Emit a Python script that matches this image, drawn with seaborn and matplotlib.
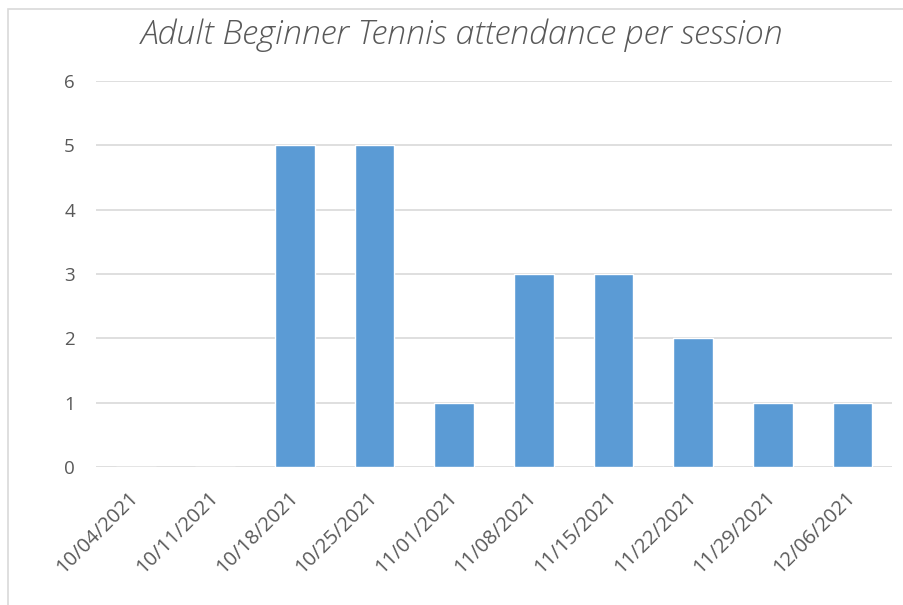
import pandas as pd
import seaborn as sns
import matplotlib.pyplot as plt
from matplotlib.patches import Rectangle

sessions = ['10/04/2021', '10/11/2021', '10/18/2021', '10/25/2021', '11/01/2021',
            '11/08/2021', '11/15/2021', '11/22/2021', '11/29/2021', '12/06/2021']
attendance = [0, 0, 5, 5, 1, 3, 3, 2, 1, 1]

df = pd.DataFrame({'session': sessions, 'attendance': attendance})

sns.set_style('white')
plt.rcParams['font.family'] = ['Open Sans', 'DejaVu Sans']

fig = plt.figure(figsize=(9.04, 6.05), dpi=100)
ax = fig.add_axes([0.106, 0.228, 0.881, 0.638])

sns.barplot(data=df, x='session', y='attendance', color='#5B9BD5',
            width=0.5, saturation=1, ax=ax)

ax.set_ylim(0, 6)
ax.set_xlim(-0.5, len(sessions) - 0.5)
ax.set_yticks(range(0, 7))
ax.yaxis.grid(True, color='#D9D9D9', linewidth=1.2)
ax.set_axisbelow(True)
for s in ax.spines.values():
    s.set_visible(False)
ax.tick_params(axis='both', length=0, colors='#595959')
ax.tick_params(axis='y', pad=15, labelsize=13.5)
ax.tick_params(axis='x', pad=20, labelsize=14.5)
plt.setp(ax.get_xticklabels(), rotation=45, ha='right', va='center',
         rotation_mode='anchor')
ax.set_xlabel('')
ax.set_ylabel('')

fig.text(0.511, 0.942, 'Adult Beginner Tennis attendance per session',
         ha='center', va='center', fontsize=24.5, style='italic',
         color='#595959', fontweight='light')

# chart frame
fig.patches.append(Rectangle((8 / 904, -0.05), 1.1, 1 - 9 / 605 + 0.05,
                             transform=fig.transFigure, fill=False,
                             edgecolor='#D9D9D9', linewidth=1.2))

fig.savefig('out.png', dpi=100)
